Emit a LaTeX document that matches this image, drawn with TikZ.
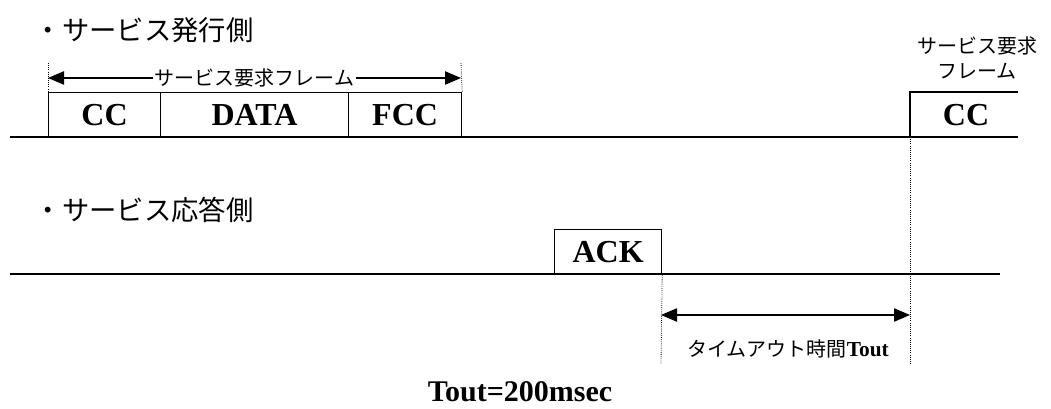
\documentclass[tikz,border=0pt]{standalone}
\usepackage{fontspec}
\setmainfont{Liberation Serif}
\newfontfamily\jp{Noto Sans CJK JP}
\usetikzlibrary{arrows.meta}
\begin{document}
\begin{tikzpicture}[x=0.75pt,y=-0.75pt,
  frm/.style={draw,line width=0.9pt,minimum height=45*0.75pt,inner sep=0pt,anchor=north west,font=\fontsize{24}{24}\selectfont\bfseries},
  base/.style={line width=0.9pt},
  guide/.style={densely dotted,line width=0.6pt},
  dim/.style={line width=0.9pt,{Triangle[length=12pt,width=10pt]}-{Triangle[length=12pt,width=10pt]}},
  head/.style={font=\jp\fontsize{20.5}{20.5}\selectfont,anchor=west},
  small/.style={font=\jp\fontsize{15}{15}\selectfont}]
\useasboundingbox (0,0) rectangle (1051,408);
% headings
\node[head] (h1) at (30,30) {・サービス発行側};
\node[head] (h2) at (30,210) {・サービス応答側};
% top timeline
\coordinate (t0) at (10,137);
\coordinate (t1) at (910,137);
\coordinate (t2) at (1018,137);
\draw[base] (t0) -- (t1);
\node[frm,minimum width=112*0.75pt] (cc) at (48,92) {CC};
\node[frm,minimum width=188*0.75pt] (data) at (160,92) {DATA};
\node[frm,minimum width=113*0.75pt] (fcc) at (348,92) {FCC};
% second CC (open right)
\coordinate (c2a) at (910,92);
\coordinate (c2b) at (1018,92);
\draw[line width=0.9pt] (c2b) -- (c2a) -- (t1) -- (t2);
\node[font=\fontsize{24}{24}\selectfont\bfseries] (cc2) at (966,115) {CC};
\node[small,align=center] (lbl2a) at (977,46) {サービス要求};
\node[small,align=center] (lbl2b) at (977,71) {フレーム};
% frame dimension
\coordinate (d0) at (48,63);
\coordinate (d1) at (461,63);
\draw[guide] (d0) -- (cc.north west);
\draw[guide] (d1) -- (fcc.north east);
\coordinate (a0) at (48,78);
\coordinate (a1) at (461,78);
\draw[dim] (a0) -- (a1) node[midway,fill=white,inner sep=1pt,small] (fl) {サービス要求フレーム};
% bottom timeline
\coordinate (b0) at (10,274);
\coordinate (b1) at (1000,274);
\draw[base] (b0) -- (b1);
\node[frm,minimum width=107*0.75pt] (ack) at (554,229) {ACK};
% timeout guides
\coordinate (g1) at (661,364);
\coordinate (g2) at (910,364);
\draw[guide] (ack.south east) -- (g1);
\draw[guide] (t1) -- (g2);
\coordinate (e1) at (661,315);
\coordinate (e2) at (910,315);
\draw[dim] (e1) -- (e2);
\node[font=\jp\fontsize{15}{15}\selectfont] (tl) at (788,349) {タイムアウト時間{\rmfamily\bfseries\fontsize{16}{16}\selectfont Tout}};
\node[font=\fontsize{22.5}{22.5}\selectfont\bfseries,anchor=base,inner sep=0pt] (tv) at (520,401) {Tout=200msec};
\end{tikzpicture}
\end{document}
